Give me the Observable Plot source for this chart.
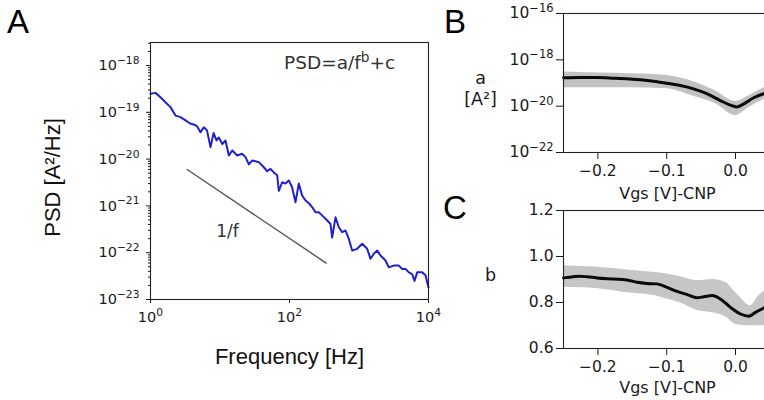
<!DOCTYPE html>
<html><head><meta charset="utf-8">
<script src="https://cdn.jsdelivr.net/npm/d3@7"></script>
<script src="https://cdn.jsdelivr.net/npm/@observablehq/plot@0.6"></script>
<style>
html,body{margin:0;padding:0;background:#fff;overflow:hidden}
#wrap{position:relative;width:764px;height:400px;overflow:hidden;background:#fff}
.panel{position:absolute}
.letter{position:absolute;font-family:"Liberation Sans",Arial,sans-serif;font-size:33px;line-height:1;color:#000}
</style></head><body>
<div id="wrap">
  <div class="panel" id="pA" style="left:0;top:0;width:440px;height:400px"></div>
  <div class="panel" id="pB" style="left:440px;top:0;width:340px;height:210px"></div>
  <div class="panel" id="pC" style="left:440px;top:200px;width:340px;height:200px"></div>
  <div class="letter" style="left:7px;top:5px">A</div>
  <div class="letter" style="left:444px;top:5px">B</div>
  <div class="letter" style="left:443px;top:191px">C</div>
</div>
<script>
// ---- Panel A: PSD spectrum ----
const psdFreq = [1, 1.18, 1.39, 1.64, 1.94, 2.29, 2.70, 3.19, 3.76, 4.2,
  4.7, 5.24, 5.85, 6.5, 7.3, 8.1, 8.9, 9.6, 10.8, 12.0,
  13.4, 15.0, 17.7, 20.8, 23.3, 26.0, 29.0, 32.4, 36.2, 42.7,
  47.8, 53.3, 59.4, 66.5, 70.2, 78.5, 87.5, 97.7, 109, 122,
  136, 152, 170, 190, 212, 237, 264, 296, 330, 389,
  411, 459, 513, 573, 640, 714, 798, 942, 1112, 1312,
  1463, 1633, 1828, 2038, 2404, 2686, 3170, 3741, 4185, 4670,
  5210, 5820, 6290, 6870, 8110, 9060, 10000];
const psdValue = [2.5e-19, 2.6e-19, 2.1e-19, 1.64e-19, 1.29e-19, 8.5e-20, 7.9e-20, 6.7e-20, 5.7e-20, 5.5e-20,
  5.0e-20, 3.76e-20, 4.8e-20, 4.1e-20, 1.8e-20, 3.6e-20, 2.5e-20, 2.9e-20, 2.1e-20, 2.5e-20,
  1.19e-20, 1.53e-20, 1.19e-20, 1.30e-20, 1.10e-20, 7.7e-21, 9.3e-21, 9.0e-21, 8.6e-21, 6.7e-21,
  5.5e-21, 6.2e-21, 5.2e-21, 4.5e-21, 2.1e-21, 3.2e-21, 3.0e-21, 3.5e-21, 2.5e-21, 1.2e-21,
  3.0e-21, 1.67e-21, 1.30e-21, 1.14e-21, 9.4e-22, 7.3e-22, 7.3e-22, 6.2e-22, 5.3e-22, 4.1e-22,
  2.1e-22, 5.7e-22, 3.5e-22, 2.74e-22, 2.98e-22, 1.97e-22, 1.11e-22, 1.21e-22, 1.55e-22, 1.21e-22,
  7.4e-23, 9.5e-23, 1.11e-22, 8.7e-23, 6.8e-23, 4.9e-23, 5.3e-23, 5.3e-23, 4.5e-23, 4.5e-23,
  3.8e-23, 3.5e-23, 2.5e-23, 3.8e-23, 3.8e-23, 3.3e-23, 1.8e-23];
const refFreq = [3.37, 337];
const refValue = [6.0e-21, 6.0e-23];
const xTicksA = [1, 100, 10000];
const yTicksA = [1e-23, 1e-22, 1e-21, 1e-20, 1e-19, 1e-18];
const minorMult = [2, 3, 4, 5, 6, 7, 8, 9];

// ---- Panel B: a vs Vgs ----
const vgsLineB = [-0.25, -0.226, -0.2015, -0.177, -0.158, -0.138, -0.119, -0.0996, -0.080, -0.061, -0.041, -0.022, -0.0074, 0.0013, 0.012, 0.0265, 0.043];
const aMean = [1.68e-19, 1.74e-19, 1.74e-19, 1.62e-19, 1.51e-19, 1.38e-19, 1.2e-19, 9.8e-20, 7.8e-20, 5.6e-20, 3.4e-20, 1.74e-20, 1.1e-20, 9.3e-21, 1.26e-20, 2.3e-20, 3.6e-20];
const vgsBandB = [-0.25, -0.2, -0.15, -0.1, -0.06, -0.03, 0.0, 0.02, 0.043];
const aUpper = [2.95e-19, 2.7e-19, 2.5e-19, 2.1e-19, 1.1e-19, 4.7e-20, 1.6e-20, 2.9e-20, 6.6e-20];
const aLower = [6.2e-20, 6.2e-20, 6.2e-20, 5.6e-20, 2.6e-20, 1.33e-20, 3.9e-21, 8.9e-21, 2.1e-20];
const yTicksB = [1e-22, 1e-20, 1e-18, 1e-16];

// ---- Panel C: b vs Vgs ----
const vgsLineC = [-0.25, -0.2355, -0.226, -0.216, -0.2015, -0.177, -0.158, -0.143, -0.129, -0.114, -0.0996, -0.085, -0.070, -0.056, -0.046, -0.034, -0.022, -0.0074, 0.0072, 0.019, 0.029, 0.043];
const bMean = [0.907, 0.912, 0.914, 0.912, 0.907, 0.902, 0.898, 0.888, 0.883, 0.881, 0.866, 0.848, 0.834, 0.821, 0.825, 0.830, 0.815, 0.779, 0.750, 0.740, 0.757, 0.779];
const vgsBandC = [-0.25, -0.2, -0.15, -0.12, -0.1, -0.08, -0.055, -0.033, -0.015, 0.002, 0.022, 0.034, 0.043];
const bUpper = [0.960, 0.953, 0.939, 0.931, 0.924, 0.912, 0.895, 0.900, 0.888, 0.837, 0.786, 0.830, 0.851];
const bLower = [0.866, 0.860, 0.840, 0.831, 0.815, 0.798, 0.765, 0.755, 0.738, 0.703, 0.699, 0.699, 0.699];
const yTicksC = [0.6, 0.8, 1.0, 1.2];
const xTicksBC = [-0.2, -0.1, 0.0];

// ---- helpers ----
const powFmt = d => "10^{" + String(Math.round(Math.log10(d))).replace("-", "\u2212") + "}";
const vFmt = d => (d < 0 ? "\u2212" : "") + Math.abs(d).toFixed(1);
const INK = "#1a1a1a";
const style = fs => ({fontFamily: "DejaVu Sans", fontSize: fs + "px", color: INK, background: "transparent", maxWidth: "none", overflow: "visible"});

// turn "x^{y}" in SVG text into real superscript tspans
function superscripts(svg) {
  const NS = "http://www.w3.org/2000/svg";
  svg.querySelectorAll("text").forEach(t => {
    if (t.querySelector("tspan")) return;
    const s = t.textContent;
    if (!s.includes("^{")) return;
    const fs = parseFloat(getComputedStyle(t).fontSize) || 15;
    const up = 0.42 * fs;
    t.textContent = "";
    const re = /\^\{([^}]*)\}/g;
    let last = 0, m, raised = false;
    const add = (txt, sup) => {
      const sp = document.createElementNS(NS, "tspan");
      sp.textContent = txt;
      if (sup) { sp.setAttribute("font-size", (0.74 * fs).toFixed(2)); sp.setAttribute("dy", (-up).toFixed(2)); raised = true; }
      else if (raised) { sp.setAttribute("dy", up.toFixed(2)); raised = false; }
      t.appendChild(sp);
    };
    while ((m = re.exec(s))) {
      if (m.index > last) add(s.slice(last, m.index), false);
      add(m[1], true);
      last = re.lastIndex;
    }
    if (last < s.length) add(s.slice(last), false);
  });
  return svg;
}

const psdData = psdFreq.map((f, i) => ({f, p: psdValue[i]}));
const refData = refFreq.map((f, i) => ({f, p: refValue[i]}));
const minorY = [-23, -22, -21, -20, -19, -18].flatMap(k => minorMult.map(m => m * Math.pow(10, k))).filter(v => v <= 3.1e-18);

const plotA = Plot.plot({
  width: 440, height: 400,
  marginLeft: 150, marginRight: 12, marginTop: 42, marginBottom: 101,
  style: style(14.5),
  x: {type: "log", domain: [1, 1e4]},
  y: {type: "log", domain: [1e-23, 3.1e-18]},
  marks: [
    Plot.axisY({ticks: minorY, tickSize: 2, tickFormat: () => "", label: null}),
    Plot.axisY({ticks: yTicksA, tickSize: 4, tickPadding: 7, tickFormat: powFmt, label: null}),
    Plot.axisX({ticks: xTicksA, tickSize: 4, tickPadding: 8, tickFormat: powFmt, label: null}),
    Plot.line(refData, {x: "f", y: "p", stroke: "#555", strokeWidth: 1.4}),
    Plot.line(psdData, {x: "f", y: "p", stroke: "#2020d0", strokeWidth: 2}),
    Plot.text([{f: 525, p: 1.1e-18, t: "PSD=a/f^{b}+c"}], {x: "f", y: "p", text: "t", fontSize: 18.5, fill: "#333", fontFamily: "DejaVu Sans"}),
    Plot.text([{f: 12.8, p: 2.9e-22, t: "1/f"}], {x: "f", y: "p", text: "t", fontSize: 17, fill: "#333", fontFamily: "DejaVu Sans"}),
    Plot.text(["Frequency [Hz]"], {text: d => d, frameAnchor: "bottom", dy: 57, lineAnchor: "middle", textAnchor: "middle", fontFamily: "Liberation Sans", fontSize: 22, fill: "#111"}),
    Plot.text(["PSD [A\u00B2/Hz]"], {text: d => d, frameAnchor: "left", dx: -98, dy: 6.5, rotate: -90, lineAnchor: "middle", textAnchor: "middle", fontFamily: "Liberation Sans", fontSize: 22, fill: "#111"}),
    Plot.frame({stroke: "#222", strokeWidth: 1.1})
  ]
});
document.getElementById("pA").append(plotA);
superscripts(plotA);

const bandB = vgsBandB.map((v, i) => ({v, lo: aLower[i], hi: aUpper[i]}));
const lineB = vgsLineB.map((v, i) => ({v, a: aMean[i]}));
const plotB = Plot.plot({
  width: 340, height: 210,
  marginLeft: 123, marginRight: 9, marginTop: 13, marginBottom: 58,
  style: style(15.5),
  x: {domain: [-0.25, 0.0523]},
  y: {type: "log", domain: [1e-22, 1e-16]},
  marks: [
    Plot.areaY(bandB, {x: "v", y1: "lo", y2: "hi", fill: "#c2c2c2", curve: "monotone-x"}),
    Plot.line(lineB, {x: "v", y: "a", stroke: "#0a0a0a", strokeWidth: 3, curve: "monotone-x"}),
    Plot.axisY({ticks: yTicksB, tickSize: 7, tickPadding: 3, tickFormat: powFmt, label: null}),
    Plot.axisX({ticks: xTicksBC, tickSize: 7, tickPadding: 5, tickFormat: vFmt, label: null}),
    Plot.text(["a\n[A\u00B2]"], {text: d => d, frameAnchor: "left", dx: -83, dy: 5, lineAnchor: "middle", textAnchor: "middle", lineHeight: 1.15, fontSize: 17.5, fill: INK}),
    Plot.text(["Vgs [V]-CNP"], {text: d => d, frameAnchor: "bottom", dy: 41.6, lineAnchor: "middle", textAnchor: "middle", fontSize: 16, fill: INK}),
    Plot.frame({stroke: "#222", strokeWidth: 1.1})
  ]
});
document.getElementById("pB").append(plotB);
superscripts(plotB);

const bandC = vgsBandC.map((v, i) => ({v, lo: bLower[i], hi: bUpper[i]}));
const lineC = vgsLineC.map((v, i) => ({v, b: bMean[i]}));
const plotC = Plot.plot({
  width: 340, height: 200,
  marginLeft: 123, marginRight: 9, marginTop: 10, marginBottom: 52,
  style: style(15.5),
  x: {domain: [-0.25, 0.0523]},
  y: {domain: [0.6, 1.2]},
  marks: [
    Plot.areaY(bandC, {x: "v", y1: "lo", y2: "hi", fill: "#c6c6c6", curve: "monotone-x"}),
    Plot.line(lineC, {x: "v", y: "b", stroke: "#0a0a0a", strokeWidth: 3, curve: "monotone-x"}),
    Plot.axisY({ticks: yTicksC, tickSize: 7, tickPadding: 3, tickFormat: vFmt, label: null}),
    Plot.axisX({ticks: xTicksBC, tickSize: 7, tickPadding: 5, tickFormat: vFmt, label: null}),
    Plot.text(["b"], {text: d => d, frameAnchor: "left", dx: -73, dy: -4, lineAnchor: "middle", textAnchor: "middle", fontSize: 17.5, fill: INK}),
    Plot.text(["Vgs [V]-CNP"], {text: d => d, frameAnchor: "bottom", dy: 39, lineAnchor: "middle", textAnchor: "middle", fontSize: 16, fill: INK}),
    Plot.frame({stroke: "#222", strokeWidth: 1.1})
  ]
});
document.getElementById("pC").append(plotC);
</script>
</body></html>
